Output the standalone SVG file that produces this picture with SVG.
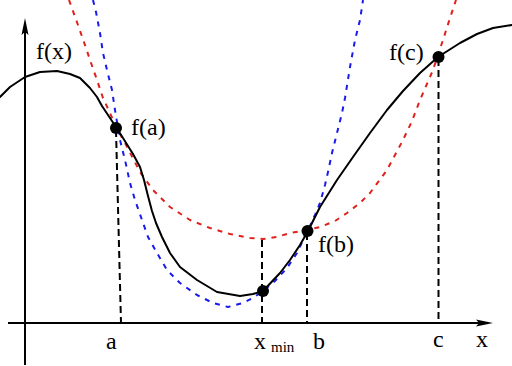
<svg xmlns="http://www.w3.org/2000/svg" width="512" height="366" viewBox="0 0 512 366">
<style>
.axis{stroke:#000;stroke-width:2;fill:none}
.head{fill:#000;stroke:none}
.curve{fill:none;stroke:#000;stroke-width:2;stroke-linejoin:round;stroke-linecap:round}
.red{fill:none;stroke:#e0201a;stroke-width:2;stroke-dasharray:5 6;stroke-linejoin:round}
.blue{fill:none;stroke:#1a1aee;stroke-width:2;stroke-dasharray:5 6;stroke-linejoin:round}
.vdash{stroke:#000;stroke-width:2;stroke-dasharray:7 4;fill:none}
.dot{fill:#000}
text{font-family:'Liberation Serif',serif;fill:#000}
.lbl{font-size:24px}
.sub{font-size:15px}
</style>
<g id="axes">
<line class="axis" x1="25" y1="365" x2="25" y2="24"/>
<path class="head" d="M25,18 L28.5,35 L25,32 L21.5,35 Z"/>
<line class="axis" x1="8" y1="323" x2="488" y2="323"/>
<path class="head" d="M493,323 L476,319.5 L479,323 L476,326.5 Z"/>
</g>
<g id="connectors">
<line class="vdash" x1="116" y1="130" x2="121" y2="323"/>
<line class="vdash" x1="262" y1="240" x2="262" y2="323"/>
<line class="vdash" x1="307" y1="233" x2="307" y2="323"/>
<line class="vdash" x1="438.5" y1="59" x2="438.5" y2="323"/>
</g>
<g id="parabola-red">
<polyline class="red" points="69,0 78,25 86,48 90,60 97,80 103,98 110,113 116,127 125,143 140,172 153,190 170,207 190,220 210,228 230,234 250,238 263,239 277,237 290,233 307,230 320,227 335,221 347,213 360,203 370,193 387,170 403,140 412,121 420,100 433,70 443,40 450,18 456,0"/>
</g>
<g id="parabola-blue">
<polyline class="blue" points="93,0 96,12 100,33 103,53 107,70 112,90 115,110 117,122 120,140 125,160 130,183 135,200 142,220 148,237 157,253 167,270 180,283 197,295 213,303 228,307 243,303 253,298 263,291 275,281 287,268 297,253 305,236 310,226 315,215 320,203 325,185 328,172 332,153 337,133 342,113 345,98 350,67 355,40 360,20 363,0"/>
</g>
<g id="function">
<polyline class="curve" points="0,97 10,87 25,77 40,72 57,71 70,74 80,78 90,88 97,97 102,106 108,115 116,127 123,138 133,154 140,167 144,180 148,196 152,211 156,223 162,237 170,253 180,267 197,280 217,292 240,296 253,294 263,291 280,273 290,260 300,245 308,231 320,207 337,180 353,157 370,133 387,110 403,91 420,73 438,57 460,43 477,34 493,28 512,25"/>
</g>
<g id="point-a"><circle class="dot" cx="116" cy="128" r="6"/><text class="lbl" x="131" y="135" font-family="Liberation Serif">f(a)</text></g>
<g id="point-min"><circle class="dot" cx="263" cy="291" r="6"/></g>
<g id="point-b"><circle class="dot" cx="307.5" cy="231" r="6"/><text class="lbl" x="318" y="252" font-family="Liberation Serif">f(b)</text></g>
<g id="point-c"><circle class="dot" cx="438.5" cy="57" r="6"/><text class="lbl" x="389" y="60" font-family="Liberation Serif">f(c)</text></g>
<g id="labels" font-family="Liberation Serif">
<text class="lbl" x="36" y="59">f(x)</text>
<text class="lbl" x="106" y="349">a</text>
<text class="lbl" x="254" y="349">x</text>
<text class="sub" x="271" y="352">min</text>
<text class="lbl" x="313" y="349">b</text>
<text class="lbl" x="433" y="347">c</text>
<text class="lbl" x="476" y="347">x</text>
</g>
</svg>
